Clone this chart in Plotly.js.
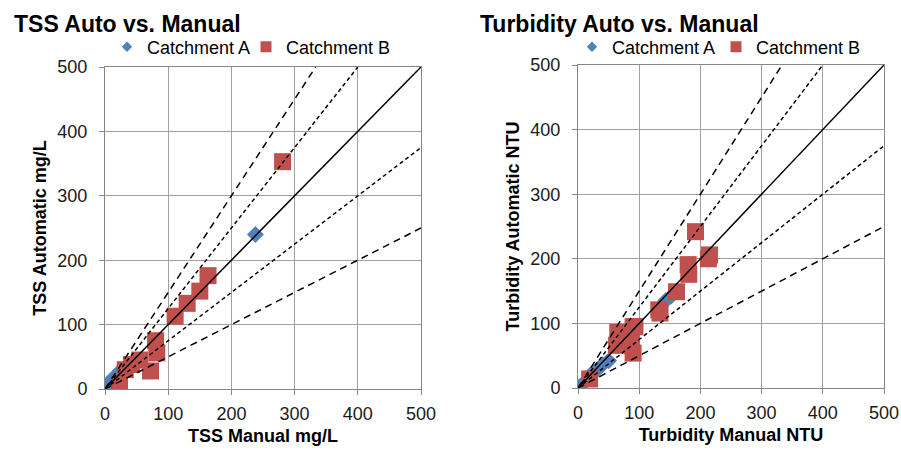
<!DOCTYPE html>
<html><head><meta charset="utf-8">
<script src="https://cdn.plot.ly/plotly-3.0.1.min.js"></script>
<style>html,body{margin:0;padding:0;background:#fff}</style>
</head><body><div id="chart" style="width:901px;height:450px"></div>
<script>
// ---- data ----
const chartTitles = ['TSS Auto vs. Manual', 'Turbidity Auto vs. Manual'];
const xTitles = ['TSS Manual mg/L', 'Turbidity Manual NTU'];
const yTitles = ['TSS Automatic mg/L', 'Turbidity Automatic NTU'];
const seriesNames = ['Catchment A', 'Catchment B'];
const tickVals = [0, 100, 200, 300, 400, 500];
const axisMax = 500;

const tssA_x = [2, 12, 24, 238];
const tssA_y = [2, 16, 28, 240];
const tssB_x = [23, 32, 42, 55, 72, 80, 82, 111, 130, 150, 163, 281];
const tssB_y = [8, 30, 38, 45, 28, 75, 56, 113, 133, 152, 176, 353];

const turbA_x = [2, 12, 20, 30, 40, 50, 143, 152];
const turbA_y = [2, 10, 20, 27, 36, 42, 135, 142];
const turbB_x = [19, 63, 65, 68, 87, 90, 90, 93, 132, 134, 161, 180, 181, 192, 213, 215];
const turbB_y = [14, 66, 86, 85, 75, 54, 95, 95, 121, 116, 149, 191, 176, 242, 200, 206];

// reference lines y = r * x
const ratios = [1.5, 1.25, 1, 0.75, 0.5];

// ---- styling ----
const FONT = 'Liberation Sans, Arial, sans-serif';
const BLUE = '#4F81BD';
const RED = '#C0504D';
function dashFor(r) {
  if (r === 1) return 'solid';
  if (r === 1.5 || r === 0.5) return '7px,5px';
  return '4px,3px';
}

const W = 901, H = 450;
const px = v => v / W;
const py = v => 1 - v / H;

const traces = [];
function addPanel(ax, ay, ax2, ay2, xa, ya, legA, legB) {
  traces.push({x: ax, y: ay, xaxis: xa, yaxis: ya, type: 'scatter', mode: 'markers',
    name: seriesNames[0], showlegend: false,
    marker: {symbol: 'diamond', size: 13, color: BLUE, line: {width: 0}}});
  traces.push({x: ax2, y: ay2, xaxis: xa, yaxis: ya, type: 'scatter', mode: 'markers',
    name: seriesNames[1], showlegend: false,
    marker: {symbol: 'square', size: 17, color: RED, line: {width: 0}}});
  ratios.forEach(r => {
    const xe = Math.min(axisMax, axisMax / r);
    traces.push({x: [0, xe], y: [0, r * xe], xaxis: xa, yaxis: ya, type: 'scatter', mode: 'lines',
      showlegend: false, hoverinfo: 'skip',
      line: {color: '#000', width: 1.5, dash: dashFor(r)}});
  });
  // legend entries
  traces.push({x: [null], y: [null], xaxis: xa, yaxis: ya, type: 'scatter', mode: 'markers',
    name: seriesNames[0], legend: legA, marker: {symbol: 'diamond', size: 8, color: BLUE}});
  traces.push({x: [null], y: [null], xaxis: xa, yaxis: ya, type: 'scatter', mode: 'markers',
    name: seriesNames[1], legend: legB, marker: {symbol: 'square', size: 11, color: RED}});
}
addPanel(tssA_x, tssA_y, tssB_x, tssB_y, 'x', 'y', 'legend', 'legend2');
addPanel(turbA_x, turbA_y, turbB_x, turbB_y, 'x2', 'y2', 'legend3', 'legend4');

function axisBase(title, domain, anchor, isY) {
  return {
    domain: domain, anchor: anchor, range: [0, axisMax], tickvals: tickVals,
    showgrid: true, gridcolor: '#a0a0a0', gridwidth: 1,
    showline: true, linecolor: '#868686', linewidth: 1, mirror: true,
    zeroline: false, ticks: 'outside', ticklen: 5, tickcolor: '#868686',
    ticklabelstandoff: isY ? 8 : 3,
    tickfont: {family: FONT, size: 18, color: '#1a1a1a'},
    title: {text: title, font: {family: FONT, size: 18, color: '#000', weight: 'bold'}, standoff: 6},
    fixedrange: true
  };
}
function legendAt(xPix) {
  return {orientation: 'h', x: px(xPix), y: py(47), xanchor: 'left', yanchor: 'middle',
    font: {family: FONT, size: 18, color: '#000'}, bgcolor: 'rgba(0,0,0,0)', itemwidth: 30};
}

const layout = {
  width: W, height: H,
  margin: {l: 0, r: 0, t: 0, b: 0},
  paper_bgcolor: '#fff', plot_bgcolor: '#fff',
  font: {family: FONT},
  xaxis: axisBase(xTitles[0], [px(105), px(421)], 'y', false),
  yaxis: axisBase(yTitles[0], [py(389), py(67)], 'x', true),
  xaxis2: axisBase(xTitles[1], [px(578), px(884)], 'y2', false),
  yaxis2: axisBase(yTitles[1], [py(388), py(65)], 'x2', true),
  legend: legendAt(107),
  legend2: legendAt(246),
  legend3: legendAt(572),
  legend4: legendAt(716),
  annotations: [
    {text: chartTitles[0], xref: 'paper', yref: 'paper', x: px(12), y: py(24),
     xanchor: 'left', yanchor: 'middle', showarrow: false,
     font: {family: FONT, size: 23, color: '#000', weight: 'bold'}},
    {text: chartTitles[1], xref: 'paper', yref: 'paper', x: px(478), y: py(24),
     xanchor: 'left', yanchor: 'middle', showarrow: false,
     font: {family: FONT, size: 23, color: '#000', weight: 'bold'}}
  ],
  showlegend: true
};

Plotly.newPlot('chart', traces, layout, {displayModeBar: false, staticPlot: true});
</script>
</body></html>
